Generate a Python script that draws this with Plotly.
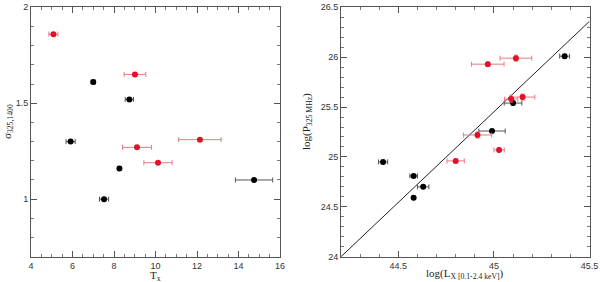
import plotly.graph_objects as go

# Left panel: sigma vs Tx
red_tx = [5.08, 9.01, 9.11, 10.12, 12.14]
red_tx_err = [0.22, 0.52, 0.70, 0.68, 1.02]
red_sigma = [1.86, 1.65, 1.27, 1.19, 1.31]

blk_tx = [7.00, 8.74, 5.91, 8.26, 7.52, 14.75]
blk_tx_err = [0.10, 0.20, 0.22, 0.08, 0.22, 0.90]
blk_sigma = [1.61, 1.52, 1.30, 1.16, 1.00, 1.10]

# Right panel: log P325 vs log Lx
red_lx = [45.115, 44.968, 45.09, 45.15, 44.914, 45.027, 44.80]
red_lx_err = [0.083, 0.085, 0.035, 0.064, 0.074, 0.027, 0.045]
red_p = [25.99, 25.93, 25.58, 25.60, 25.22, 25.07, 24.96]
red_p_err = [0.03, 0.02, 0.03, 0.03, 0.03, 0.02, 0.02]

blk_lx = [45.37, 45.10, 44.99, 44.42, 44.58, 44.63, 44.58]
blk_lx_err = [0.026, 0.046, 0.069, 0.024, 0.02, 0.03, 0.0]
blk_p = [26.01, 25.54, 25.26, 24.95, 24.81, 24.70, 24.59]
blk_p_err = [0.02, 0.02, 0.01, 0.01, 0.01, 0.01, 0.01]

fit_x = [44.2, 45.5]
fit_y = [24.0, 26.36]

RED = "#e3102a"
RED_ERR = "#e87a80"
BLK = "#000000"
BLK_ERR = "#555555"

fig = go.Figure()

def add_pts(x, y, xerr, yerr, color, ecolor, xa, ya):
    ey = dict(type="data", array=yerr, color=ecolor, thickness=1, width=2) if yerr is not None else None
    fig.add_trace(go.Scatter(
        x=x, y=y, mode="markers",
        marker=dict(color=color, size=6, line=dict(width=0)),
        error_x=dict(type="data", array=xerr, color=ecolor, thickness=1, width=2.5),
        error_y=ey,
        xaxis=xa, yaxis=ya, showlegend=False,
    ))

add_pts(blk_tx, blk_sigma, blk_tx_err, None, BLK, BLK_ERR, "x", "y")
add_pts(red_tx, red_sigma, red_tx_err, None, RED, RED_ERR, "x", "y")

fig.add_trace(go.Scatter(x=fit_x, y=fit_y, mode="lines",
                         line=dict(color="#222222", width=1),
                         xaxis="x2", yaxis="y2", showlegend=False))
add_pts(blk_lx, blk_p, blk_lx_err, blk_p_err, BLK, BLK_ERR, "x2", "y2")
add_pts(red_lx, red_p, red_lx_err, red_p_err, RED, RED_ERR, "x2", "y2")

tickfont = dict(family="Liberation Sans", size=9, color="#333333")

def axis(rng, dtick, mdtick, domain, anchor):
    return dict(
        range=rng, dtick=dtick, tick0=0, domain=domain, anchor=anchor,
        ticks="inside", ticklen=6, tickwidth=1, tickcolor="#555555",
        mirror="allticks", showline=True, linecolor="#555555", linewidth=1,
        showgrid=False, zeroline=False, tickfont=tickfont, automargin=False,
        minor=dict(dtick=mdtick, ticks="inside", ticklen=3, tickcolor="#777777", showgrid=False),
    )

ydom = [1 - 256.7 / 282, 1 - 7.3 / 282]
fig.update_layout(
    width=600, height=282,
    margin=dict(l=0, r=0, t=0, b=0),
    paper_bgcolor="white", plot_bgcolor="white",
    hovermode=False,
    xaxis=axis([4, 16], 2, 0.5, [31 / 600, 280 / 600], "y"),
    yaxis=axis([0.7, 2], 0.5, 0.1, ydom, "x"),
    xaxis2=axis([44.2, 45.5], 0.5, 0.1, [341 / 600, 589.5 / 600], "y2"),
    yaxis2=axis([24, 26.5], 0.5, 0.1, ydom, "x2"),
)

tfont = dict(family="Liberation Serif", size=11, color="#222222")
def title(text, px, py, angle=0):
    fig.add_annotation(text=text, x=px / 600, y=1 - py / 282, xref="paper", yref="paper",
                       xanchor="center", yanchor="middle", showarrow=False, font=tfont,
                       textangle=angle)

title("T<sub>x</sub>", 155.5, 275.5)
title("σ<sub>325,1400</sub>", 8, 122, -90)
title("log(L<sub>X [0.1-2.4 keV]</sub>)", 465, 274)
title("log(P<sub>325 MHz</sub>)", 307, 122, -90)

fig.write_html("out.html", config={"displayModeBar": False},
               post_script="document.body.style.margin='0px';")
